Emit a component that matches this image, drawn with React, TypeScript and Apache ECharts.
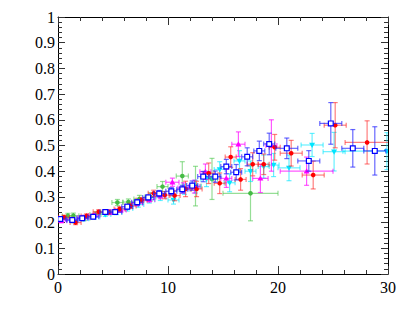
import React, { useEffect, useRef } from "react";
import * as echarts from "echarts";

// Blue open squares
const blueX = [0.2, 1.3, 2.2, 3.2, 4.3, 5.2, 6.3, 7.2, 8.2, 9.2, 10.3, 11.3, 12.2, 13.2, 14.3, 15.3, 16.2, 17.2, 18.3, 19.2, 20.8, 22.8, 24.8, 26.8, 28.8];
const blueY = [0.214, 0.21, 0.217, 0.223, 0.241, 0.241, 0.262, 0.279, 0.298, 0.313, 0.322, 0.33, 0.344, 0.379, 0.379, 0.418, 0.396, 0.456, 0.479, 0.506, 0.489, 0.44, 0.586, 0.489, 0.479];
const blueXErr = [0.5, 0.5, 0.5, 0.5, 0.5, 0.6, 0.5, 0.5, 0.5, 0.5, 0.5, 0.5, 0.5, 0.5, 0.5, 0.5, 0.5, 0.5, 0.5, 0.5, 1, 1, 1, 1, 1];
const blueYErr = [0.008, 0.008, 0.008, 0.008, 0.008, 0.009, 0.009, 0.01, 0.01, 0.012, 0.014, 0.015, 0.018, 0.02, 0.022, 0.028, 0.03, 0.035, 0.038, 0.042, 0.04, 0.04, 0.081, 0.073, 0.094];

// Red filled circles
const redX = [0.55, 1.6, 2.6, 3.7, 4.6, 5.6, 6.6, 7.6, 8.7, 9.7, 10.6, 11.6, 12.6, 13.7, 14.7, 15.7, 16.6, 17.7, 18.7, 19.7, 21.2, 23.2, 25.2, 28.1];
const redY = [0.221, 0.2, 0.226, 0.242, 0.241, 0.253, 0.265, 0.288, 0.314, 0.307, 0.305, 0.331, 0.331, 0.392, 0.353, 0.455, 0.368, 0.427, 0.427, 0.493, 0.47, 0.385, 0.579, 0.512];
const redXErr = [0.5, 0.5, 0.5, 0.5, 0.5, 0.5, 0.5, 0.5, 0.5, 0.5, 0.5, 0.5, 0.5, 0.5, 0.5, 0.5, 0.5, 0.5, 0.5, 0.5, 1, 1, 1, 2];
const redYErr = [0.008, 0.008, 0.008, 0.008, 0.008, 0.009, 0.01, 0.01, 0.012, 0.014, 0.02, 0.03, 0.03, 0.04, 0.04, 0.04, 0.042, 0.045, 0.04, 0.05, 0.05, 0.054, 0.088, 0.084];

// Magenta triangles
const magX = [0.3, 1.3, 2.3, 3.3, 4.7, 5.7, 7.2, 8.3, 9.3, 10.4, 11.4, 12.4, 13.4, 15.3, 16.4, 18.4, 19.4, 22.6];
const magY = [0.207, 0.212, 0.22, 0.228, 0.24, 0.249, 0.275, 0.29, 0.305, 0.357, 0.335, 0.34, 0.398, 0.372, 0.505, 0.372, 0.5, 0.4];
const magXErr = [0.5, 0.5, 0.5, 0.5, 0.5, 0.5, 0.5, 0.5, 0.5, 0.6, 0.5, 0.5, 0.5, 0.5, 0.6, 0.7, 0.5, 2.4];
const magYErr = [0.008, 0.008, 0.008, 0.008, 0.009, 0.009, 0.01, 0.01, 0.012, 0.016, 0.02, 0.025, 0.03, 0.035, 0.048, 0.055, 0.1, 0.055];

// Cyan triangles (down)
const cyanX = [0.3, 1.3, 2.3, 3.3, 4.3, 5.3, 6.3, 7.3, 8.3, 9.3, 10.5, 11.5, 12.5, 13.5, 14.7, 15.6, 16.5, 17.5, 18.7, 19.6, 21.0, 23.1, 25.1, 29.9];
const cyanY = [0.212, 0.208, 0.215, 0.222, 0.232, 0.24, 0.255, 0.27, 0.288, 0.3, 0.288, 0.33, 0.34, 0.37, 0.407, 0.355, 0.44, 0.4, 0.418, 0.424, 0.413, 0.502, 0.476, 0.478];
const cyanXErr = [0.5, 0.5, 0.5, 0.5, 0.5, 0.5, 0.5, 0.5, 0.5, 0.5, 0.5, 0.5, 0.5, 0.5, 0.5, 0.5, 0.5, 0.5, 0.5, 0.5, 1, 1, 1, 4];
const cyanYErr = [0.008, 0.008, 0.008, 0.008, 0.008, 0.009, 0.01, 0.01, 0.012, 0.014, 0.016, 0.02, 0.025, 0.03, 0.03, 0.035, 0.04, 0.04, 0.045, 0.045, 0.05, 0.045, 0.075, 0.072];

// Green circles
const greenX = [0.9, 1.4, 2.4, 3.4, 4.4, 5.4, 6.4, 7.4, 8.4, 9.5, 11.3, 12.5, 14.0, 17.5];
const greenY = [0.226, 0.227, 0.218, 0.232, 0.24, 0.278, 0.28, 0.292, 0.3, 0.34, 0.381, 0.342, 0.37, 0.314];
const greenXErr = [0.5, 0.5, 0.5, 0.5, 0.5, 0.5, 0.5, 0.5, 0.5, 0.5, 0.55, 0.5, 0.5, 2.5];
const greenYErr = [0.01, 0.01, 0.01, 0.01, 0.01, 0.012, 0.012, 0.014, 0.016, 0.02, 0.056, 0.077, 0.08, 0.107];

const xTicks = [0, 10, 20, 30];
const yTicks = [0, 0.1, 0.2, 0.3, 0.4, 0.5, 0.6, 0.7, 0.8, 0.9, 1];

function build(xs: number[], ys: number[], xe: number[], ye: number[]) {
  return xs.map((x, i) => [x, ys[i], xe[i], ye[i]]);
}

function errSeries(name: string, data: number[][], color: string, barColor: string, marker: string, z: number) {
  return {
    type: "custom",
    name,
    clip: true,
    z,
    dimensions: ["x", "y", "xe", "ye"],
    encode: { x: 0, y: 1 },
    data,
    renderItem: (params: any, api: any) => {
      const x = api.value(0), y = api.value(1), xe = api.value(2), ye = api.value(3);
      const c = api.coord([x, y]);
      const l = api.coord([x - xe, y]);
      const r = api.coord([x + xe, y]);
      const t = api.coord([x, y + ye]);
      const b = api.coord([x, y - ye]);
      const cap = 2.5;
      const ls = { stroke: barColor, lineWidth: 1.2 };
      const children: any[] = [
        { type: "line", shape: { x1: l[0], y1: c[1], x2: r[0], y2: c[1] }, style: ls },
        { type: "line", shape: { x1: l[0], y1: c[1] - cap, x2: l[0], y2: c[1] + cap }, style: ls },
        { type: "line", shape: { x1: r[0], y1: c[1] - cap, x2: r[0], y2: c[1] + cap }, style: ls },
        { type: "line", shape: { x1: c[0], y1: t[1], x2: c[0], y2: b[1] }, style: ls },
        { type: "line", shape: { x1: c[0] - cap, y1: t[1], x2: c[0] + cap, y2: t[1] }, style: ls },
        { type: "line", shape: { x1: c[0] - cap, y1: b[1], x2: c[0] + cap, y2: b[1] }, style: ls },
      ];
      const s = 2.4;
      if (marker === "circle") {
        children.push({ type: "circle", shape: { cx: c[0], cy: c[1], r: 2.3 }, style: { fill: color } });
      } else if (marker === "square") {
        children.push({ type: "rect", shape: { x: c[0] - s, y: c[1] - s, width: 2 * s, height: 2 * s }, style: { fill: "#fff", stroke: color, lineWidth: 1.2 } });
      } else if (marker === "tri") {
        children.push({ type: "polygon", shape: { points: [[c[0], c[1] - 3], [c[0] + 3, c[1] + 2.2], [c[0] - 3, c[1] + 2.2]] }, style: { fill: color } });
      } else if (marker === "trid") {
        children.push({ type: "polygon", shape: { points: [[c[0], c[1] + 3], [c[0] + 3, c[1] - 2.2], [c[0] - 3, c[1] - 2.2]] }, style: { fill: color } });
      }
      return { type: "group", children };
    },
  };
}

const font = "Liberation Serif, Times New Roman, serif";

export default function App() {
  const ref = useRef<HTMLDivElement>(null);
  useEffect(() => {
    if (!ref.current) return;
    const chart = echarts.init(ref.current, null, { renderer: "svg" });
    const axisLine = { show: true, onZero: false, lineStyle: { color: "#000", width: 1 } };
    const tick = { show: true, inside: true, length: 8, lineStyle: { color: "#333", width: 1 } };
    const minor = { show: true, splitNumber: 5, length: 4, lineStyle: { color: "#333", width: 1 } };
    const fmtY = (v: number) => {
      const m = yTicks.find((t) => Math.abs(t - v) < 1e-6);
      const val = m === undefined ? v : m;
      return val === 0 ? "0" : val === 1 ? "1" : val.toFixed(1);
    };
    chart.setOption({
      animation: false,
      textStyle: { fontFamily: font },
      grid: { left: 58, right: 21, top: 17, bottom: 53 },
      xAxis: [
        {
          type: "value", min: xTicks[0], max: xTicks[xTicks.length - 1], interval: 10, position: "bottom",
          axisLine, axisTick: tick, minorTick: minor, splitLine: { show: false },
          axisLabel: { show: true, color: "#000", fontFamily: font, fontSize: 16, margin: 5 },
        },
        {
          type: "value", min: 0, max: 30, interval: 10, position: "top",
          axisLine, axisTick: tick, minorTick: minor, splitLine: { show: false },
          axisLabel: { show: false },
        },
      ],
      yAxis: [
        {
          type: "value", min: 0, max: 1, interval: 0.1, position: "left",
          axisLine, axisTick: { ...tick, length: 7 }, minorTick: minor, splitLine: { show: false },
          axisLabel: { show: true, color: "#000", fontFamily: font, fontSize: 16, margin: 3, formatter: fmtY },
        },
        {
          type: "value", min: 0, max: 1, interval: 0.1, position: "right",
          axisLine, axisTick: { ...tick, length: 7 }, minorTick: minor, splitLine: { show: false },
          axisLabel: { show: false },
        },
      ],
      series: [
        errSeries("green", build(greenX, greenY, greenXErr, greenYErr), "#44bb44", "rgba(80,200,80,0.6)", "circle", 1),
        errSeries("cyan", build(cyanX, cyanY, cyanXErr, cyanYErr), "#00e5ff", "rgba(0,230,255,0.6)", "trid", 2),
        errSeries("magenta", build(magX, magY, magXErr, magYErr), "#ff00ff", "rgba(255,0,255,0.65)", "tri", 3),
        errSeries("red", build(redX, redY, redXErr, redYErr), "#ff0000", "rgba(255,40,40,0.6)", "circle", 4),
        errSeries("blue", build(blueX, blueY, blueXErr, blueYErr), "#0000ff", "rgba(40,40,255,0.7)", "square", 5),
      ],
    });
    return () => chart.dispose();
  }, []);
  return <div ref={ref} style={{ position: "absolute", left: 0, top: 0, width: 409, height: 327, background: "#fff" }} />;
}
